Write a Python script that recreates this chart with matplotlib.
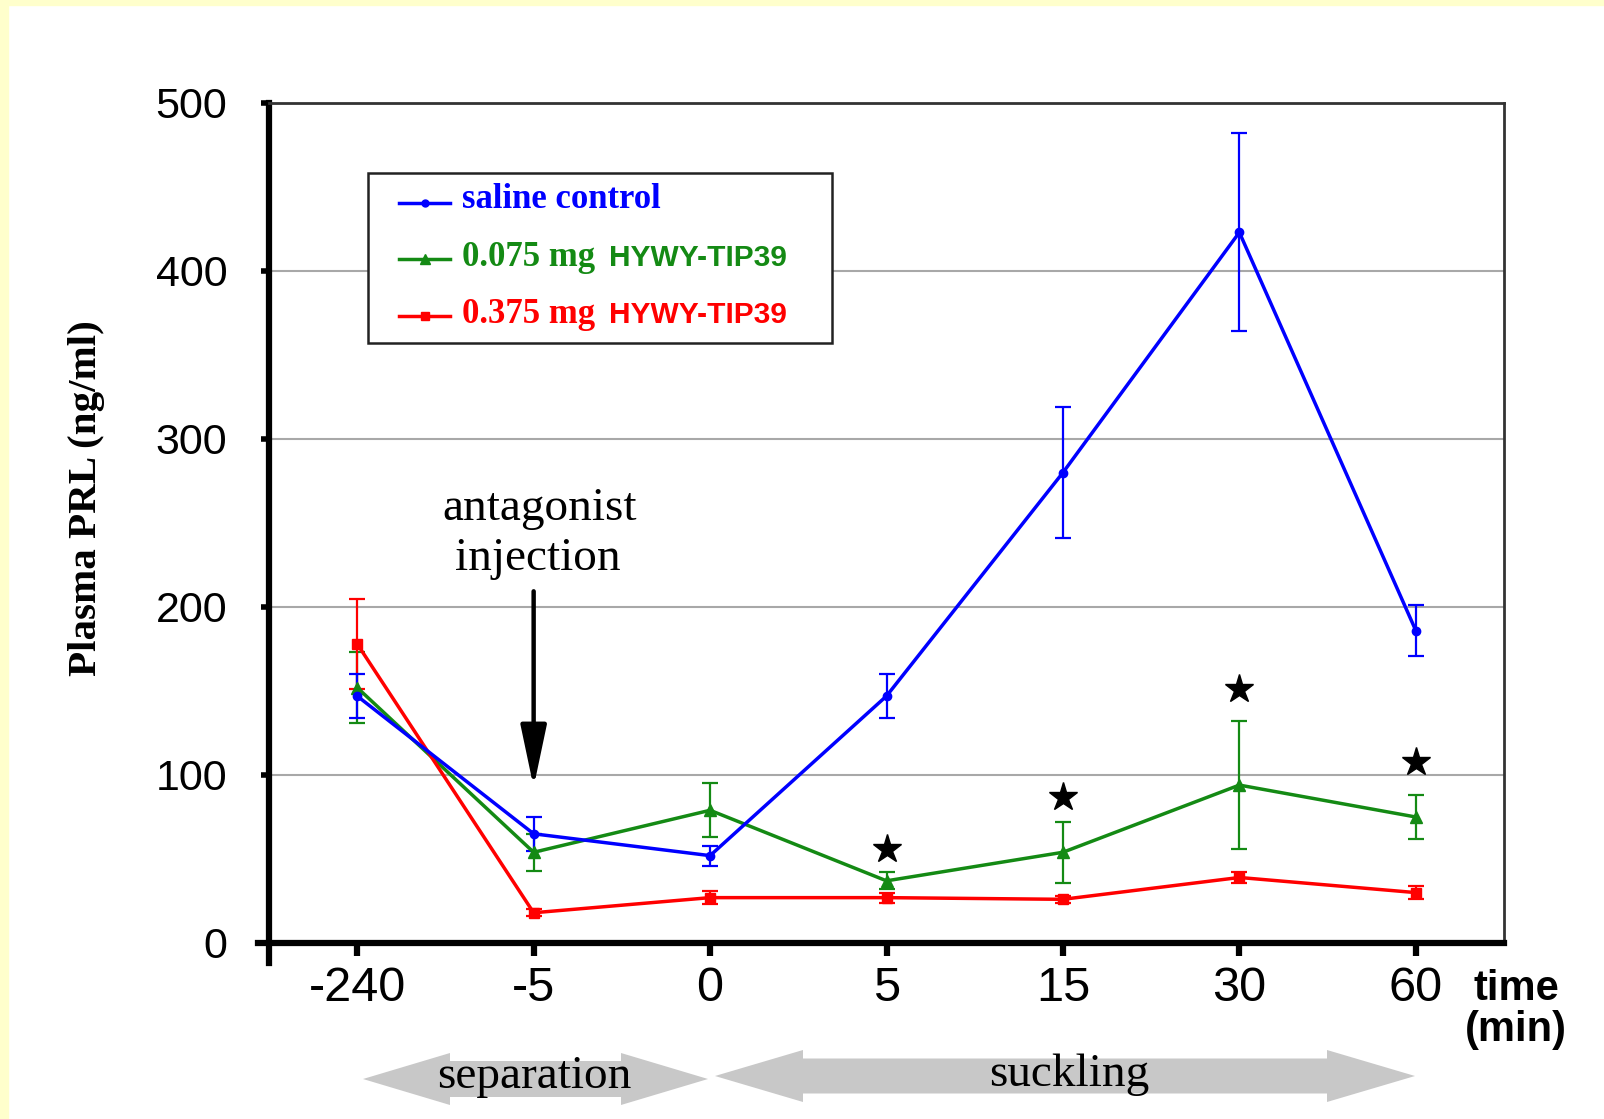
import matplotlib
matplotlib.use("Agg")
import matplotlib.pyplot as plt
from matplotlib.patches import Rectangle, Polygon, FancyArrowPatch
from matplotlib.lines import Line2D
import numpy as np

# ---------------- data ----------------
time_labels = ["-240", "-5", "0", "5", "15", "30", "60"]
saline = [147, 65, 52, 147, 280, 423, 186]
saline_err = [13, 10, 6, 13, 39, 59, 15]
low_dose = [152, 54, 79, 37, 54, 94, 75]
low_err = [21, 11, 16, 5, 18, 38, 13]
high_dose = [178, 18, 27, 27, 26, 39, 30]
high_err = [27, 2, 4, 3, 2, 3, 4]
star_idx = [3, 4, 5, 6]
star_y = [56, 87, 151, 108]
series_names = ["saline control", "0.075 mg", "0.375 mg"]
peptide = "HYWY-TIP39"
y_ticks = [0, 100, 200, 300, 400, 500]
arrow_span = [211, 91]   # antagonist injection arrow, from/to (ng/ml) at t=-5

SERIF = "Liberation Serif"
SANS = "Liberation Sans"
BLUE, GREEN, RED = "#0000FF", "#148A14", "#FF0000"

W, H = 1604, 1119
fig = plt.figure(figsize=(W / 100, H / 100), dpi=100)
fig.patch.set_facecolor("white")


def fx(px):
    return px / W


def fy(py):
    return 1 - py / H


# light yellow frame (top and left)
fig.add_artist(Rectangle((0, fy(5)), 1, 5 / H, transform=fig.transFigure,
                         color="#FFFFCC", zorder=0))
fig.add_artist(Rectangle((0, 0), 8 / W, 1, transform=fig.transFigure,
                         color="#FFFFCC", zorder=0))

ax = fig.add_axes([fx(269), fy(943), (1504 - 269) / W, (943 - 103) / H])
x = np.arange(len(time_labels))

styles = [
    (low_dose, low_err, GREEN, "^", 8),
    (high_dose, high_err, RED, "s", 6.5),
    (saline, saline_err, BLUE, "o", 6),
]
for vals, errs, col, mk, ms in styles:
    ax.errorbar(x, vals, yerr=errs, color=col, marker=mk, ms=ms, lw=2.5,
                elinewidth=1.6, capsize=6, capthick=1.6, zorder=3)

ax.plot(star_idx, star_y, linestyle="none", marker="*", ms=21,
        color="black", zorder=4)

ax.set_xlim(-0.5, 6.5)
ax.set_ylim(0, 500)
ax.set_yticks(y_ticks)
ax.set_yticklabels([str(v) for v in y_ticks], fontsize=31, family=SANS)
ax.set_xticks(x)
ax.set_xticklabels(time_labels, fontsize=35, family=SANS)
ax.set_xticks(np.arange(0.5, 6, 1.0), minor=True)
ax.tick_params(axis="y", direction="out", length=6, width=4, pad=24)
ax.tick_params(axis="x", which="major", direction="out", length=9.5, width=4.5, pad=7)
ax.tick_params(axis="x", which="minor", direction="out", length=2.5, width=3)

ax.yaxis.grid(True, color="#A8A8A8", lw=1.5)
ax.set_axisbelow(True)

for s in ["left", "bottom"]:
    ax.spines[s].set_linewidth(4.5)
    ax.spines[s].set_color("black")
for s in ["top", "right"]:
    ax.spines[s].set_linewidth(2)
    ax.spines[s].set_color("#333333")
ax.spines["left"].set_bounds(-12, 500)
ax.spines["bottom"].set_bounds(-0.56, 6.5)

# antagonist injection arrow
arr = FancyArrowPatch((1, arrow_span[0]), (1, arrow_span[1]),
                      arrowstyle="-|>,head_length=3.8,head_width=0.8",
                      mutation_scale=10, lw=3.2, color="black", zorder=5)
ax.add_patch(arr)
fig.text(fx(540), fy(520), "antagonist", family=SERIF, fontsize=34,
         ha="center", va="baseline")
fig.text(fx(538), fy(570), "injection", family=SERIF, fontsize=34,
         ha="center", va="baseline")

# y label
fig.text(fx(87), fy(498), "Plasma PRL (ng/ml)", rotation=90, family=SERIF,
         fontweight="bold", fontsize=29.5, ha="center", va="center")

# time (min)
fig.text(fx(1516), fy(1000), "time", family=SANS, fontweight="bold",
         fontsize=30, ha="center", va="baseline")
fig.text(fx(1516), fy(1041), "(min)", family=SANS, fontweight="bold",
         fontsize=30, ha="center", va="baseline")

# legend (manual, mixed fonts)
fig.add_artist(Rectangle((fx(368), fy(343)), (832 - 368) / W, (343 - 173) / H,
                         transform=fig.transFigure, facecolor="white",
                         edgecolor="#222222", lw=1.8, zorder=6))
rows = [
    (BLUE, "o", 5, 203, 208, series_names[0], None),
    (GREEN, "^", 7, 259, 266, series_names[1], peptide),
    (RED, "s", 5.5, 316, 323, series_names[2], peptide),
]
for col, mk, ms, ly, by, t1, t2 in rows:
    fig.add_artist(Line2D([fx(399), fx(450)], [fy(ly), fy(ly)],
                          transform=fig.transFigure, color=col, lw=2.5, zorder=7))
    fig.add_artist(Line2D([fx(424.5)], [fy(ly)], transform=fig.transFigure,
                          color=col, marker=mk, ms=ms, zorder=7))
    fig.text(fx(462), fy(by), t1, family=SERIF, fontweight="bold",
             fontsize=25, color=col, ha="left", va="baseline", zorder=8)
    if t2:
        fig.text(fx(609), fy(by), t2, family=SANS, fontweight="bold",
                 fontsize=21.5, color=col, ha="left", va="baseline", zorder=8)


# bottom grey double arrows
def double_arrow(x0, x1, yc, body, head, hl):
    pts = [(x0, yc), (x0 + hl, yc - head), (x0 + hl, yc - body),
           (x1 - hl, yc - body), (x1 - hl, yc - head), (x1, yc),
           (x1 - hl, yc + head), (x1 - hl, yc + body),
           (x0 + hl, yc + body), (x0 + hl, yc + head)]
    pts = [(fx(a), fy(b)) for a, b in pts]
    fig.add_artist(Polygon(pts, closed=True, transform=fig.transFigure,
                           facecolor="#C8C8C8", edgecolor="none", zorder=1))


double_arrow(363, 708, 1079, 18, 26, 87)
double_arrow(715, 1415, 1076, 17.5, 26, 88)
fig.text(fx(534), fy(1088), "separation", family=SERIF, fontsize=34,
         ha="center", va="baseline", zorder=3)
fig.text(fx(1069), fy(1086), "suckling", family=SERIF, fontsize=34,
         ha="center", va="baseline", zorder=3)

fig.savefig("out.png", dpi=100, facecolor=fig.get_facecolor())
